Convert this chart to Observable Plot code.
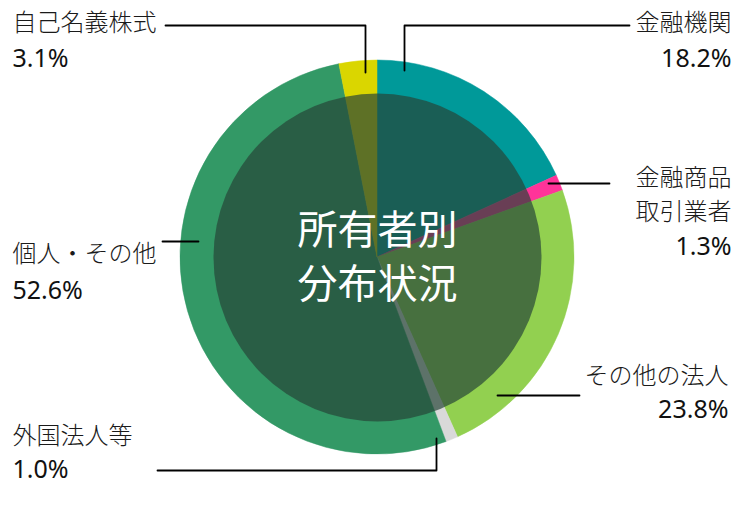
<!DOCTYPE html>
<html><head><meta charset="utf-8">
<script src="https://cdn.jsdelivr.net/npm/d3@7"></script>
<script src="https://cdn.jsdelivr.net/npm/@observablehq/plot@0.6"></script>
<style>html,body{margin:0;padding:0;background:#fff}</style>
</head><body><div id="chart"></div>
<script>
// ---- data ----
const categories = ["金融機関", "金融商品取引業者", "その他の法人", "外国法人等", "個人・その他", "自己名義株式"];
const shares = [18.2, 1.3, 23.8, 1.0, 52.6, 3.1];
const labelLines = [["金融機関"], ["金融商品", "取引業者"], ["その他の法人"], ["外国法人等"], ["個人・その他"], ["自己名義株式"]];
const centerTitle = ["所有者別", "分布状況"];

// ---- styles / layout ----
const colors = ["#009999", "#FF3399", "#92D050", "#D9D9D9", "#339966", "#DAD600"];
const W = 745, H = 523;
const CX = 377, CY = 257, R_OUT = 197, R_IN = 164;
const FONT = "'Noto Sans CJK JP', 'Noto Sans', sans-serif";
const NUMFONT = "'Noto Sans', 'Noto Sans CJK JP', sans-serif";
const labelLayout = [
  {x: 731, anchor: "end",   ys: [23, 58]},
  {x: 731, anchor: "end",   ys: [178, 212, 246]},
  {x: 728, anchor: "end",   ys: [376, 409]},
  {x: 12,  anchor: "start", ys: [436, 469]},
  {x: 12,  anchor: "start", ys: [254, 290]},
  {x: 12,  anchor: "start", ys: [23, 58]}
];
const centerLayout = {ys: [231, 285]};
const leaderLayout = [
  [[404, 70], [404, 25], [629, 25]],
  [[548, 183], [609, 183]],
  [[497, 395], [579, 395]],
  [[436, 438], [436, 470], [157, 470]],
  [[198, 241], [162, 241]],
  [[365, 72], [365, 25], [165, 25]]
];

const data = categories.map((c, i) => ({category: c, share: shares[i]}));
const colorScale = Plot.scale({color: {type: "ordinal", domain: categories, range: colors}});

// label rows
const labelRows = [];
data.forEach((d, i) => {
  const L = labelLayout[i];
  labelLines[i].forEach((t, j) => labelRows.push({text: t, x: L.x, y: L.ys[j], anchor: L.anchor, pct: false}));
  labelRows.push({text: d.share.toFixed(1) + "%", x: L.x, y: L.ys[labelLines[i].length], anchor: L.anchor, pct: true});
});
const centerRows = centerTitle.map((t, i) => ({text: t, x: CX, y: centerLayout.ys[i]}));
const leaderRows = [];
leaderLayout.forEach((pts, i) => pts.forEach(([x, y]) => leaderRows.push({x, y, k: categories[i]})));

// pie slices mark (d3.pie + d3.arc, positioned through Plot's scales)
function pieSlices(index, scales) {
  const cx = scales.x(CX), cy = scales.y(CY);
  const r = scales.x(CX + R_OUT) - cx;
  const arcs = d3.pie().sort(null).value(d => d.share)(data);
  const arc = d3.arc().innerRadius(0).outerRadius(r);
  const g = d3.create("svg:g").attr("transform", `translate(${cx},${cy})`);
  g.selectAll("path").data(arcs).join("path")
    .attr("d", arc)
    .attr("fill", d => colorScale.apply(d.data.category))
    .attr("stroke", d => colorScale.apply(d.data.category))
    .attr("stroke-width", 0.5);
  return g.node();
}

const nameOpts = {x: "x", y: "y", text: "text", lineAnchor: "middle", fill: "#1a1a1a", fontSize: 24, fontFamily: FONT, fontWeight: 300};
const pctOpts = {x: "x", y: "y", text: "text", lineAnchor: "middle", fill: "#111", fontSize: 25, fontFamily: NUMFONT, fontWeight: 400};

const chart = Plot.plot({
  width: W, height: H,
  margin: 0,
  x: {domain: [0, W], range: [0, W], axis: null},
  y: {domain: [0, H], range: [0, H], axis: null},
  style: {background: "#fff", fontFamily: FONT},
  marks: [
    pieSlices,
    Plot.dot([{x: CX, y: CY}], {x: "x", y: "y", r: R_IN, fill: "#264437", fillOpacity: 0.69, stroke: null}),
    Plot.text(centerRows, {x: "x", y: "y", text: "text", fill: "#fff", fontSize: 40, fontFamily: FONT, fontWeight: 400, textAnchor: "middle", lineAnchor: "middle"}),
    Plot.line(leaderRows, {x: "x", y: "y", z: "k", stroke: "#000", strokeWidth: 1.8, curve: "linear"}),
    Plot.text(labelRows.filter(d => d.anchor === "start" && !d.pct), {...nameOpts, textAnchor: "start"}),
    Plot.text(labelRows.filter(d => d.anchor === "end" && !d.pct), {...nameOpts, textAnchor: "end"}),
    Plot.text(labelRows.filter(d => d.anchor === "start" && d.pct), {...pctOpts, textAnchor: "start"}),
    Plot.text(labelRows.filter(d => d.anchor === "end" && d.pct), {...pctOpts, textAnchor: "end"})
  ]
});
document.getElementById("chart").appendChild(chart);
</script>
</body></html>
